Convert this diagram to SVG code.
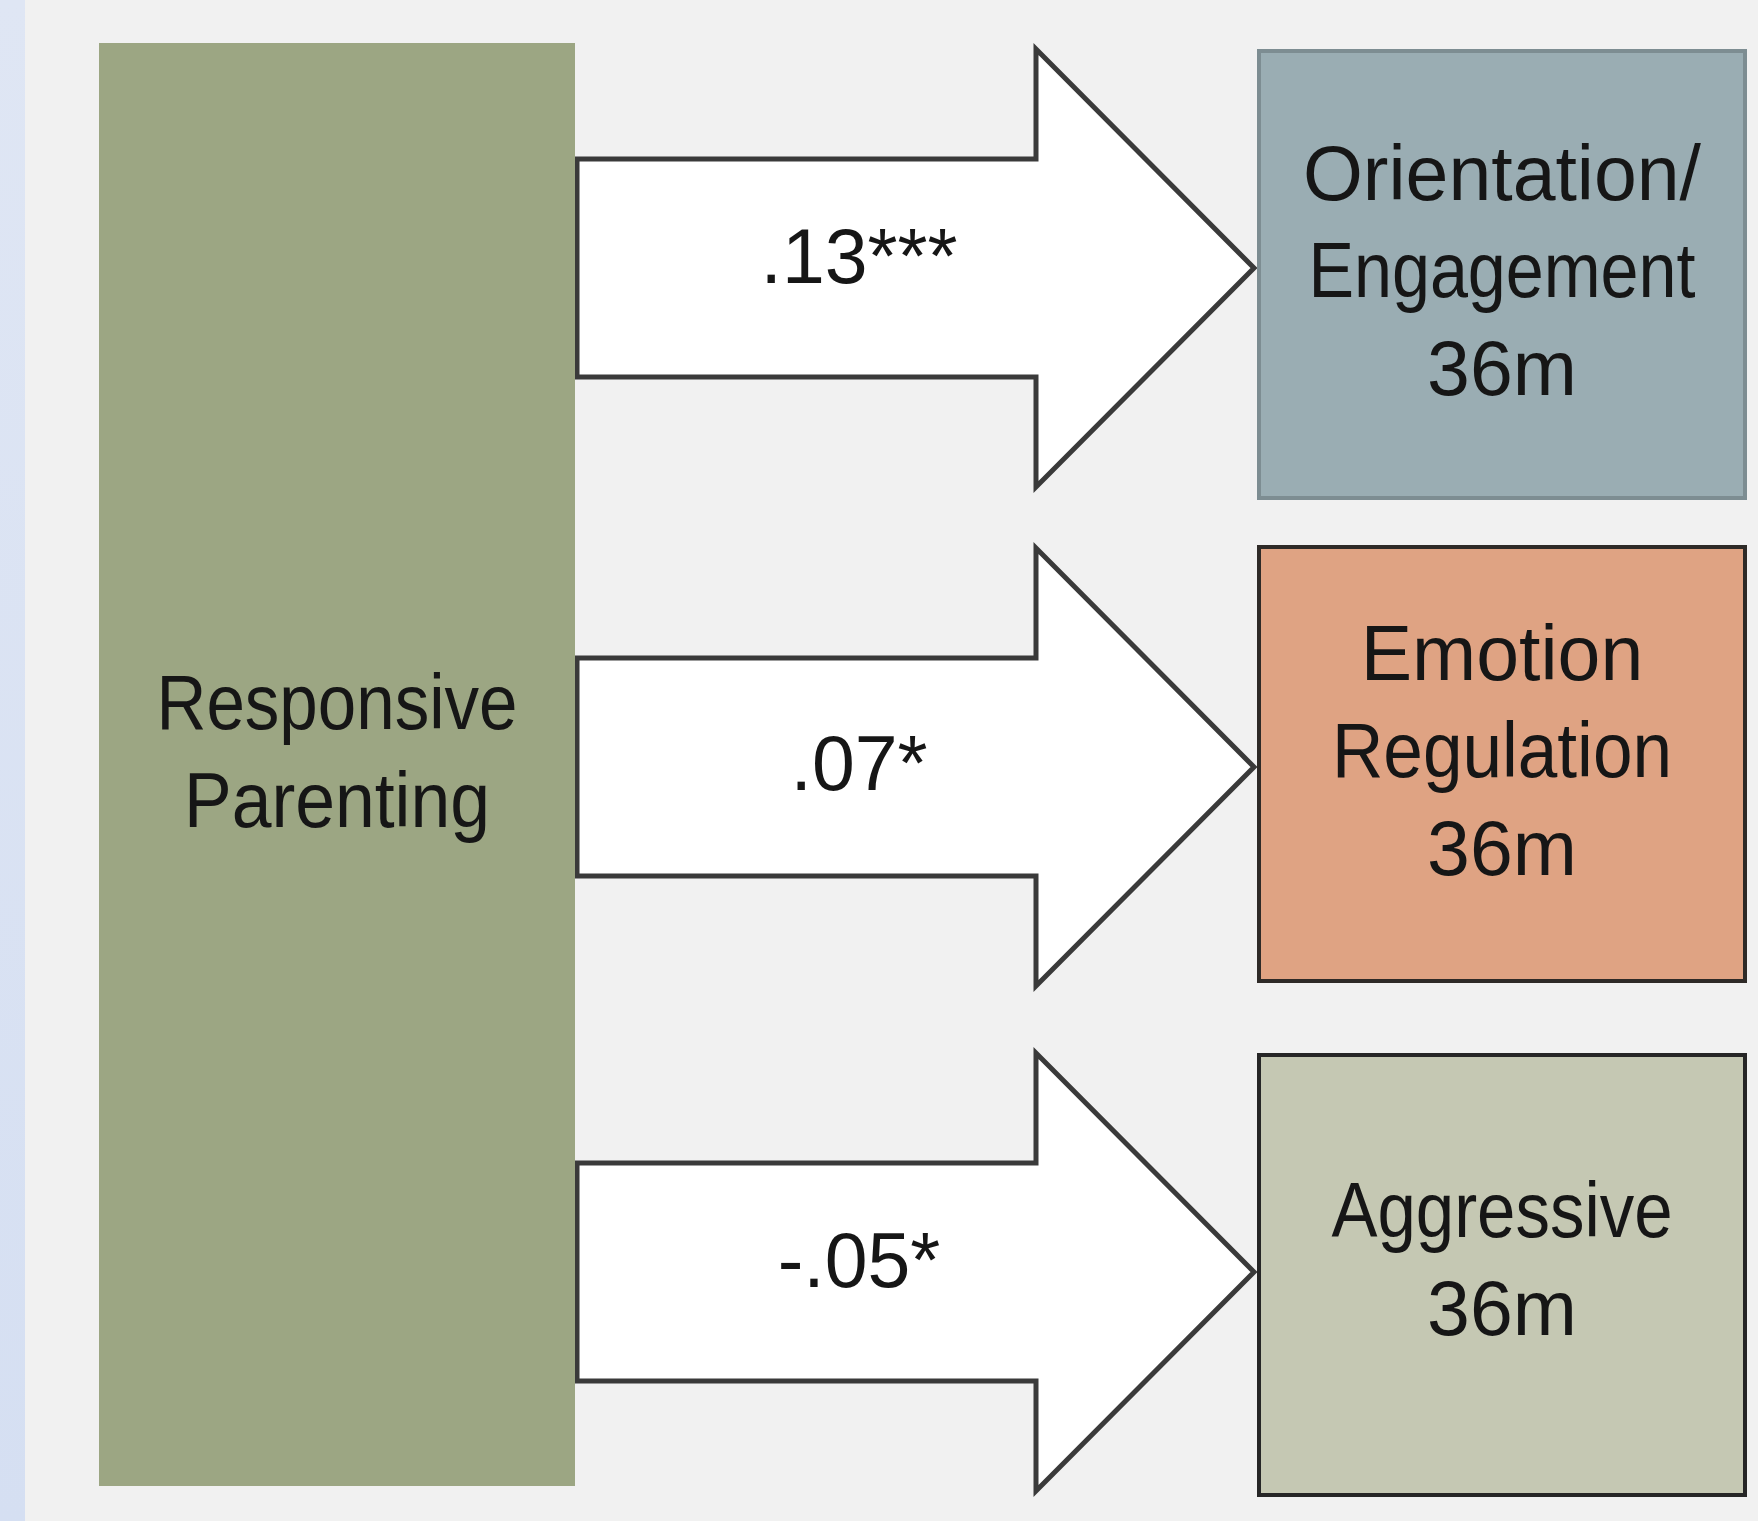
<svg xmlns="http://www.w3.org/2000/svg" width="1758" height="1521" viewBox="0 0 1758 1521">
<defs>
<linearGradient id="strip" x1="0" y1="0" x2="0" y2="1">
<stop offset="0" stop-color="#dfe6f4"/>
<stop offset="1" stop-color="#d5dff2"/>
</linearGradient>
<style>
.t{font-family:"Liberation Sans",Arial,sans-serif;font-size:77px;fill:#161616;text-anchor:middle}
.arrow{fill:#ffffff;stroke:#3a3a3a;stroke-width:5;stroke-linejoin:miter}
.box{stroke-width:4}
</style>
</defs>
<rect x="0" y="0" width="1758" height="1521" fill="#f1f1f1"/>
<rect x="0" y="0" width="25" height="1521" fill="url(#strip)"/>
<g id="connectors">
<g id="arrow1">
<polygon class="arrow" points="577,159 1036,159 1036,49 1254,268 1036,487 1036,377 577,377"/>
<text class="t" x="859" y="283">.13***</text>
</g>
<g id="arrow2">
<polygon class="arrow" points="577,658 1036,658 1036,548 1254,767 1036,986 1036,876 577,876"/>
<text class="t" x="859" y="790">.07*</text>
</g>
<g id="arrow3">
<polygon class="arrow" points="577,1163 1036,1163 1036,1053 1254,1272 1036,1491 1036,1381 577,1381"/>
<text class="t" x="859" y="1287">-.05*</text>
</g>
</g>
<g id="node-responsive">
<rect x="99" y="43" width="476" height="1443" fill="#9ca683"/>
<text class="t" x="337" y="729" textLength="361" lengthAdjust="spacingAndGlyphs">Responsive</text>
<text class="t" x="337" y="827" textLength="306" lengthAdjust="spacingAndGlyphs">Parenting</text>
</g>
<g id="node-orientation">
<rect class="box" x="1259" y="51" width="486" height="447" fill="#9aadb3" stroke="#7d8d92"/>
<text class="t" x="1502" y="200">Orientation/</text>
<text class="t" x="1502" y="297" textLength="387" lengthAdjust="spacingAndGlyphs">Engagement</text>
<text class="t" x="1502" y="395">36m</text>
</g>
<g id="node-emotion">
<rect class="box" x="1259" y="547" width="486" height="434" fill="#dfa383" stroke="#2e2a27"/>
<text class="t" x="1502" y="680">Emotion</text>
<text class="t" x="1502" y="777" textLength="340" lengthAdjust="spacingAndGlyphs">Regulation</text>
<text class="t" x="1502" y="875">36m</text>
</g>
<g id="node-aggressive">
<rect class="box" x="1259" y="1055" width="486" height="440" fill="#c5c8b3" stroke="#262626"/>
<text class="t" x="1502" y="1237" textLength="341" lengthAdjust="spacingAndGlyphs">Aggressive</text>
<text class="t" x="1502" y="1335">36m</text>
</g>
</svg>
